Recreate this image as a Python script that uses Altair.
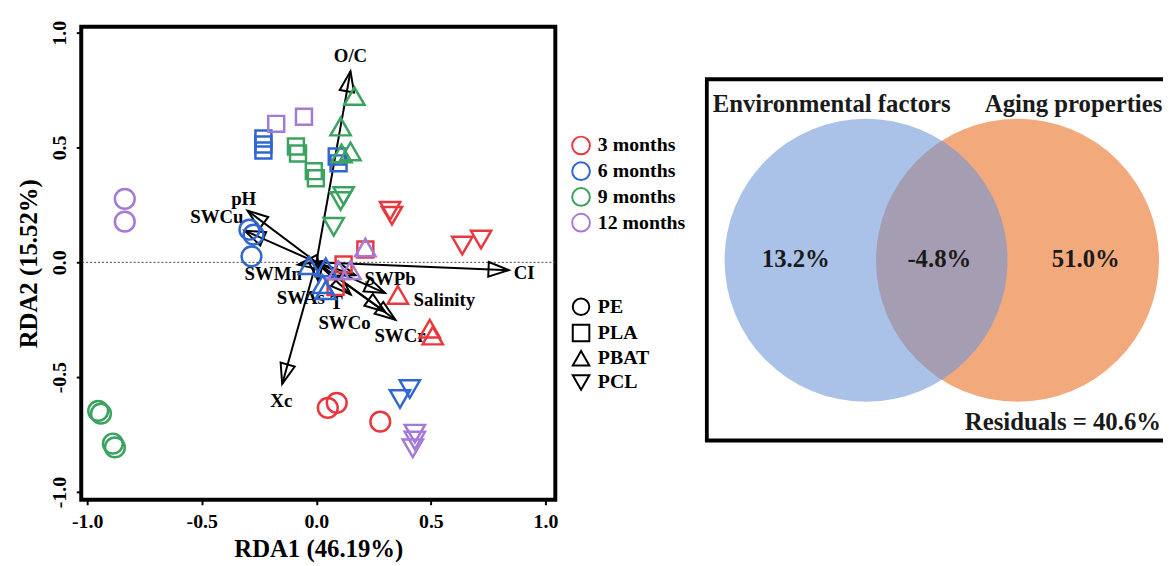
import math
import altair as alt
import pandas as pd

FONT = "Liberation Serif"

# ---------------- RDA samples ----------------
month_levels = ["3 months", "6 months", "9 months", "12 months"]
month_colors = ["#e8383d", "#2f66d0", "#3aa35f", "#a47ad8"]
polymer_levels = ["PE", "PLA", "PBAT", "PCL"]
polymer_shapes = ["circle", "square", "triangle-up", "triangle-down"]
polymer_sizes = [400, 260, 420, 420]

pe_months = ["3 months", "3 months", "3 months", "6 months", "6 months", "6 months",
             "9 months", "9 months", "9 months", "9 months", "12 months", "12 months"]
pe_rda1 = [0.050, 0.089, 0.279, -0.292, -0.274, -0.283, -0.952, -0.940, -0.888, -0.879, -0.836, -0.836]
pe_rda2 = [-0.634, -0.612, -0.694, 0.142, 0.121, 0.026, -0.647, -0.659, -0.789, -0.806, 0.276, 0.177]

pla_months = ["3 months", "3 months", "3 months", "6 months", "6 months", "6 months", "6 months", "6 months",
              "9 months", "9 months", "9 months", "9 months", "12 months", "12 months"]
pla_rda1 = [0.214, 0.119, 0.084, -0.231, -0.231, -0.231, 0.089, 0.097, -0.089, -0.080, -0.011, -0.002, -0.175, -0.054]
pla_rda2 = [0.056, -0.009, -0.108, 0.539, 0.513, 0.487, 0.461, 0.431, 0.504, 0.474, 0.397, 0.366, 0.603, 0.634]

pbat_months = ["3 months", "3 months", "3 months", "6 months", "6 months", "6 months", "6 months",
               "9 months", "9 months", "9 months", "9 months", "12 months", "12 months", "12 months"]
pbat_rda1 = [0.356, 0.495, 0.508, -0.032, 0.041, 0.028, 0.041, 0.166, 0.106, 0.149, 0.110, 0.214, 0.097, 0.149]
pbat_rda2 = [-0.142, -0.289, -0.319, -0.013, -0.022, -0.095, -0.121, 0.724, 0.591, 0.483, 0.474, 0.065, -0.034, -0.034]

pcl_months = ["3 months", "3 months", "3 months", "3 months", "6 months", "6 months",
              "9 months", "9 months", "9 months", "12 months", "12 months", "12 months"]
pcl_rda1 = [0.322, 0.330, 0.637, 0.719, 0.408, 0.365, 0.119, 0.106, 0.076, 0.430, 0.430, 0.421]
pcl_rda2 = [0.224, 0.203, 0.073, 0.099, -0.552, -0.595, 0.289, 0.267, 0.155, -0.746, -0.776, -0.810]

# ---------------- environmental / aging vectors ----------------
env_names = ["O/C", "CI", "Xc", "pH", "SWCu", "SWMn", "SWAs", "T", "SWPb", "Salinity", "SWCo", "SWCr"]
env_rda1 = [0.149, 0.840, -0.149, -0.300, -0.313, -0.080, 0.010, 0.150, 0.170, 0.300, 0.300, 0.345]
env_rda2 = [0.832, -0.034, -0.530, 0.225, 0.138, -0.010, -0.085, -0.140, -0.056, -0.134, -0.215, -0.250]
env_label_rda1 = [0.149, 0.907, -0.153, -0.317, -0.434, -0.188, -0.068, 0.088, 0.322, 0.559, 0.123, 0.365]
env_label_rda2 = [0.897, -0.045, -0.603, 0.276, 0.198, -0.052, -0.157, -0.176, -0.073, -0.164, -0.264, -0.323]

axis_ticks = [-1.0, -0.5, 0.0, 0.5, 1.0]

# ---------------- Venn (variation partitioning) ----------------
venn_sets = ["Environmental factors", "Aging properties"]
venn_unique = ["13.2%", "51.0%"]
venn_shared = "-4.8%"
venn_residual = "Residuals = 40.6%"

# ---------------- layout ----------------
PW, PH = 479, 478
XDOM = [-1.026, 1.043]
YDOM = [-1.034, 1.026]
px_x = PW / (XDOM[1] - XDOM[0])
px_y = PH / (YDOM[1] - YDOM[0])

series = [("PE", pe_months, pe_rda1, pe_rda2),
          ("PLA", pla_months, pla_rda1, pla_rda2),
          ("PBAT", pbat_months, pbat_rda1, pbat_rda2),
          ("PCL", pcl_months, pcl_rda1, pcl_rda2)]

vectors = pd.DataFrame({
    "name": env_names,
    "rda1": env_rda1,
    "rda2": env_rda2,
    "lx": env_label_rda1,
    "ly": env_label_rda2,
})
vectors["origin"] = 0.0
vectors["angle"] = [math.degrees(math.atan2(a * px_x, b * px_y)) % 360 for a, b in zip(env_rda1, env_rda2)]

xs = alt.Scale(domain=XDOM, nice=False, zero=False)
ys = alt.Scale(domain=YDOM, nice=False, zero=False)

label_expr = "replace(format(datum.value, '.1f'), '\u2212', '-')"
common_axis = dict(domain=False, grid=False, ticks=True, tickSize=5, tickWidth=2, tickColor="black",
                   labelFont=FONT, labelFontSize=20, labelFontWeight="bold", labelColor="black",
                   labelFlush=False, labelOverlap=False,
                   titleFont=FONT, titleFontSize=25, titleFontWeight="bold", titleColor="black")
x_axis = alt.Axis(title="RDA1 (46.19%)", values=axis_ticks, labelExpr=label_expr, labelPadding=7,
                  titleY=49, titleBaseline="middle", **common_axis)
y_axis = alt.Axis(title="RDA2 (15.52%)", values=axis_ticks, labelExpr=label_expr,
                  labelAngle=270, labelAlign="center", labelBaseline="bottom", labelPadding=7,
                  titleAngle=270, titleX=-53, titleY=PH / 2, titleAlign="center", titleBaseline="middle",
                  **common_axis)

color_legend = alt.Legend(title=None, orient="none", legendX=495, legendY=110, symbolType="circle",
                          symbolSize=320, symbolStrokeWidth=2, labelFont=FONT, labelFontSize=20,
                          labelFontWeight="bold", labelColor="black", rowPadding=0, padding=0, labelOffset=7)
shape_legend = alt.Legend(title=None, orient="none", legendX=495, legendY=273, symbolSize=280,
                          symbolStrokeWidth=2, symbolStrokeColor="black", labelFont=FONT, labelFontSize=20,
                          labelFontWeight="bold", labelColor="black", rowPadding=0.5, padding=0, labelOffset=7)

X = lambda f: alt.X(f, scale=xs, axis=x_axis)
Y = lambda f: alt.Y(f, scale=ys, axis=y_axis)

zero_line = alt.Chart(pd.DataFrame({"z": [0.0]})).mark_rule(
    strokeDash=[2, 2], strokeWidth=1, color="#444"
).encode(y=Y("z:Q"))

arrow_lines = alt.Chart(vectors).mark_rule(color="black", strokeWidth=2).encode(
    x=X("origin:Q"), x2="rda1:Q",
    y=Y("origin:Q"), y2="rda2:Q",
)

arrow_heads = alt.Chart(vectors).mark_point(
    shape="M0,0L0.72,2L-0.72,2Z", filled=False, stroke="black", strokeWidth=2, size=420, opacity=1
).encode(
    x=X("rda1:Q"),
    y=Y("rda2:Q"),
    angle=alt.Angle("angle:Q", scale=None),
)

arrow_labels = alt.Chart(vectors).mark_text(
    font=FONT, fontSize=19, fontWeight="bold", color="black", align="center", baseline="middle"
).encode(
    x=X("lx:Q"),
    y=Y("ly:Q"),
    text="name:N",
)

point_layers = []
for (pol, mlist, xs_, ys_), psize in zip(series, polymer_sizes):
    df = pd.DataFrame({"polymer": pol, "month": mlist, "rda1": xs_, "rda2": ys_})
    point_layers.append(
        alt.Chart(df).mark_point(filled=False, strokeWidth=2.5, opacity=1, size=psize).encode(
            x=X("rda1:Q"),
            y=Y("rda2:Q"),
            color=alt.Color("month:N", scale=alt.Scale(domain=month_levels, range=month_colors),
                            legend=color_legend),
            shape=alt.Shape("polymer:N", scale=alt.Scale(domain=polymer_levels, range=polymer_shapes),
                            legend=shape_legend),
        )
    )

rda = alt.layer(zero_line, arrow_lines, arrow_heads, arrow_labels, *point_layers).properties(
    width=PW, height=PH, view=alt.ViewBackground(stroke="black", strokeWidth=4)
)

# ---------------- Venn panel ----------------
VW, VH = 463, 478
vxs = alt.Scale(domain=[0, VW], nice=False, zero=False)
vys = alt.Scale(domain=[0, VH], nice=False, zero=False, reverse=True)
R = 143
circle_size = (2 * R) ** 2

venn_circles = pd.DataFrame({"set": venn_sets, "cx": [163, 316], "cy": [236, 236]})
frame_df = pd.DataFrame({"x0": [2], "x1": [480], "y0": [53], "y1": [418]})
name_df = pd.DataFrame({"t": venn_sets, "x": [8, 283], "y": [78, 78]})
pct_df = pd.DataFrame({"t": [venn_unique[0], venn_shared, venn_unique[1]], "x": [92, 237, 385], "y": [235, 235, 235]})
res_df = pd.DataFrame({"t": [venn_residual], "x": [461], "y": [399]})

VX = lambda f: alt.X(f, scale=vxs, axis=None)
VY = lambda f: alt.Y(f, scale=vys, axis=None)

orange = alt.Chart(venn_circles[venn_circles["set"] == "Aging properties"]).mark_circle(
    size=circle_size, color="#f2a97c", opacity=1
).encode(x=VX("cx:Q"), y=VY("cy:Q"))
blue = alt.Chart(venn_circles[venn_circles["set"] == "Environmental factors"]).mark_circle(
    size=circle_size, color="#7197d8", opacity=0.6
).encode(x=VX("cx:Q"), y=VY("cy:Q"))

frame = alt.Chart(frame_df).mark_rect(fillOpacity=0, stroke="black", strokeWidth=4, clip=True).encode(
    x=VX("x0:Q"), x2="x1:Q",
    y=VY("y0:Q"), y2="y1:Q",
)

text_style = dict(font=FONT, fontWeight="bold", color="#1a1a1a", baseline="middle")
names = alt.Chart(name_df).mark_text(align="left", fontSize=25, clip=True, **text_style).encode(
    x=VX("x:Q"), y=VY("y:Q"), text="t:N")
pcts = alt.Chart(pct_df).mark_text(align="center", fontSize=25, **text_style).encode(
    x=VX("x:Q"), y=VY("y:Q"), text="t:N")
resid = alt.Chart(res_df).mark_text(align="right", fontSize=25, **text_style).encode(
    x=VX("x:Q"), y=VY("y:Q"), text="t:N")

venn = alt.layer(orange, blue, frame, names, pcts, resid).properties(
    width=VW, height=VH, view=alt.ViewBackground(strokeWidth=0)
)

chart = alt.hconcat(rda, venn, spacing=151, bounds="flush").properties(
    padding={"left": 7, "top": 7, "right": 0, "bottom": 0}
).configure_view(strokeWidth=0)

chart.save("out.html", embed_options={"renderer": "svg", "actions": False})
